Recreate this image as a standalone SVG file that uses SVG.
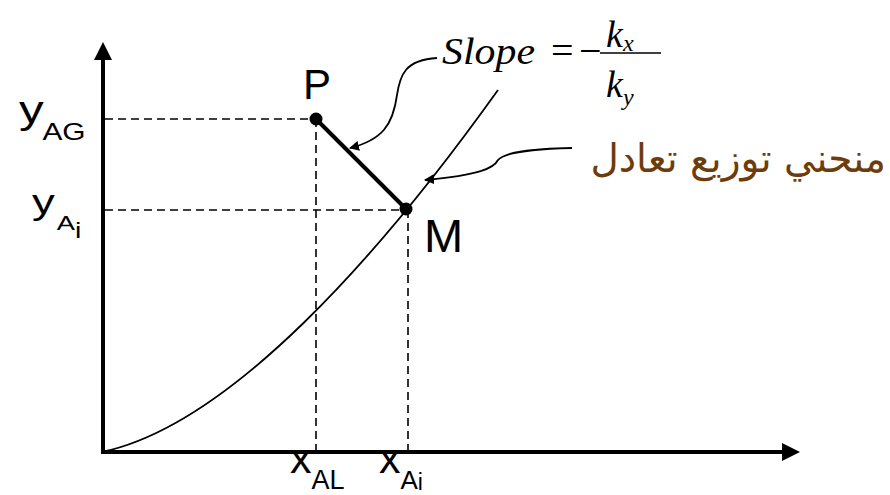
<svg xmlns="http://www.w3.org/2000/svg" width="890" height="495" viewBox="0 0 890 495">
<style>
.axis{stroke:#000;stroke-width:4;fill:none}
.dash{stroke:#000;stroke-width:1.6;stroke-dasharray:8,5;fill:none}
.thin{stroke:#000;stroke-width:1.8;fill:none}
.lbl{font-family:"Liberation Sans",Arial,sans-serif;fill:#000}
.ser{font-family:"Liberation Serif","Times New Roman",serif;font-style:italic;fill:#000}
.sym{font-family:"Liberation Serif","Times New Roman",serif;fill:#000}
.ar{font-family:"DejaVu Sans","Noto Sans",sans-serif;fill:#6E3C0C}
</style>
<defs>
<marker id="ah" viewBox="0 0 10 10" refX="9" refY="5" markerWidth="10" markerHeight="10" markerUnits="userSpaceOnUse" orient="auto">
<path d="M0,0 L10,5 L0,10 Z" fill="#000"/>
</marker>
</defs>
<g id="axes">
<line class="axis" x1="103" y1="454" x2="103" y2="58"/>
<path d="M103,42 L94,60 L112,60 Z" fill="#000"/>
<line class="axis" x1="101" y1="452" x2="784" y2="452"/>
<path d="M800,452 L782,443 L782,461 Z" fill="#000"/>
</g>
<g id="guides">
<line class="dash" x1="105" y1="119" x2="316" y2="119"/>
<line class="dash" x1="105" y1="210" x2="406" y2="210"/>
<line class="dash" x1="316" y1="119" x2="316" y2="450"/>
<line class="dash" x1="408" y1="210" x2="408" y2="450"/>
</g>
<g id="curve">
<path class="thin" d="M102,452 C230,425 380,255 498,90"/>
</g>
<g id="connectors">
<line x1="316" y1="119" x2="406" y2="209" stroke="#000" stroke-width="4"/>
<path class="thin" d="M437,58 C405,60 400,75 397,95 C393,125 382,140 350,148" marker-end="url(#ah)"/>
<path class="thin" d="M572,148 C530,149 505,152 498,160 C494,168 480,175 425,180" marker-end="url(#ah)"/>
</g>
<g id="P">
<circle cx="316" cy="119" r="6.5" fill="#000"/>
<text class="lbl" x="303" y="99" font-size="42">P</text>
</g>
<g id="M">
<circle cx="406" cy="209" r="6.5" fill="#000"/>
<text class="lbl" x="424" y="252" font-size="47">M</text>
</g>
<g id="yAG">
<text class="lbl" transform="translate(19,123) scale(1.3,1)" font-size="38">y<tspan font-size="23" dy="17" x="18">AG</tspan></text>
</g>
<g id="yAi">
<text class="lbl" transform="translate(32,214) scale(1.3,1)" font-size="35">y<tspan font-size="21" dy="16" x="19">A</tspan><tspan font-size="22" dy="8">i</tspan></text>
</g>
<g id="xAL">
<text class="lbl" x="290" y="473" font-size="43">x<tspan font-size="27" dy="16">A</tspan><tspan font-size="27" dy="0">L</tspan></text>
</g>
<g id="xAi">
<text class="lbl" x="379" y="473" font-size="43">x<tspan font-size="26" dy="16">A</tspan><tspan font-size="23" dy="1">i</tspan></text>
</g>
<g id="slope">
<text class="ser" x="442" y="64" font-size="37" textLength="93" lengthAdjust="spacingAndGlyphs">Slope</text>
<text class="sym" x="551" y="64" font-size="40">=</text>
<text class="sym" x="579" y="64" font-size="40">−</text>
<line x1="600" y1="53" x2="661" y2="53" stroke="#000" stroke-width="1.6"/>
<text class="ser" x="606" y="47" font-size="38">k<tspan font-size="24" dy="4">x</tspan></text>
<text class="ser" x="606" y="97" font-size="38">k<tspan font-size="24" dy="8">y</tspan></text>
</g>
<g id="label-curve">
<text class="ar" x="886" y="172" font-size="39" text-anchor="end">منحني توزيع تعادل</text>
</g>
</svg>
